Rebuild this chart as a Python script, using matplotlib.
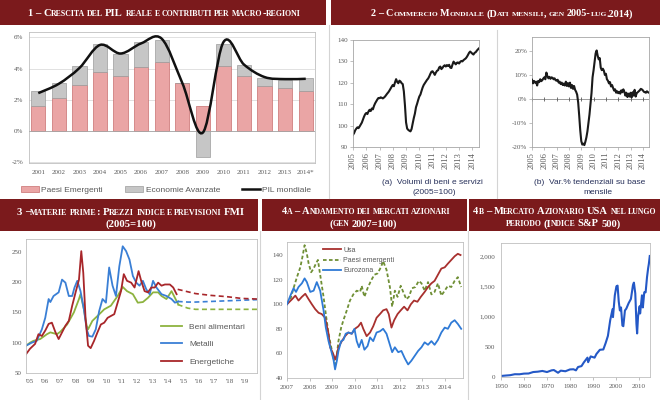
import matplotlib
matplotlib.use('Agg')
import numpy as np
import matplotlib.pyplot as plt
from matplotlib.path import Path
from matplotlib.patches import PathPatch, Rectangle
from matplotlib.lines import Line2D

# ---------------- dati ----------------
# 1 - crescita PIL
anni1 = ['2001', '2002', '2003', '2004', '2005', '2006', '2007', '2008', '2009',
         '2010', '2011', '2012', '2013', '2014*']
emergenti = [1.61, 2.11, 2.97, 3.78, 3.55, 4.09, 4.41, 3.08, 1.61, 4.15, 3.51, 2.86, 2.75, 2.54]
avanzate = [0.93, 0.97, 1.18, 1.81, 1.42, 1.61, 1.42, 0.02, -1.66, 1.44, 0.75, 0.54, 0.54, 0.84]
pil_mondiale = [2.43, 3.03, 4.04, 5.52, 4.97, 5.62, 5.92, 3.08, -0.10, 5.70, 4.26, 3.46, 3.33, 3.35]

# 2 - commercio mondiale, mensile gen 2005 - lug 2014
volumi = [95.7, 96.5, 97.8, 98.6, 99.2, 98.8, 99.6, 100.5, 101.4, 102.8, 104.2, 105.3,
          105.9, 105.4, 106.6, 107.4, 106.8, 108.0, 107.6, 109.2, 110.4, 111.3, 112.2, 112.9,
          112.8, 113.2, 113.0, 112.7, 113.1, 113.6, 114.3, 115.0, 115.6, 116.4, 117.3, 118.2,
          119.0, 118.4, 120.2, 121.7, 120.4, 119.8, 121.0, 120.6, 119.8, 119.4, 116.0, 109.5,
          101.5, 98.6, 98.0, 97.6, 97.3, 98.4, 101.0, 103.5, 105.6, 108.6, 110.2, 112.0,
          113.6, 114.5, 116.2, 117.8, 119.0, 119.8, 120.6, 121.4, 122.0, 123.0, 124.2, 125.2,
          125.4, 124.6, 123.7, 124.8, 125.6, 125.9, 127.2, 127.6, 126.4, 127.0, 127.8, 128.2,
          127.6, 128.3, 127.9, 128.4, 127.1, 126.9, 128.5, 129.9, 129.2, 128.6, 129.4, 129.5,
          129.0, 129.8, 130.2, 130.0, 130.6, 131.0, 131.4, 132.1, 133.0, 134.0, 134.6, 134.1,
          133.6, 133.2, 134.0, 134.3, 135.0, 135.6, 136.1]
var_tend = [8.0, 6.5, 7.5, 6.8, 7.2, 5.6, 7.5, 7.0, 8.2, 7.4, 7.8, 8.5,
            9.0, 8.2, 11.0, 9.5, 8.6, 9.2, 8.4, 9.0, 8.8, 8.2, 8.6, 7.8,
            7.6, 8.0, 6.8, 7.2, 6.2, 6.8, 5.8, 6.4, 5.6, 7.2, 5.4, 6.6,
            5.2, 6.8, 4.6, 5.8, 4.2, 5.4, 3.8, 3.0, 1.8, -1.5, -7.0, -13.0,
            -17.5, -19.0, -18.6, -19.2, -17.8, -16.0, -13.5, -10.0, -6.5, -2.0, 2.5, 9.0,
            12.0, 15.5, 19.0, 20.2, 18.0, 16.5, 17.0, 13.0, 12.0, 12.6, 11.8, 10.0,
            10.5, 8.2, 7.6, 6.5, 7.0, 5.2, 5.8, 4.6, 3.5, 4.0, 2.6, 3.2,
            2.4, 3.0, 2.2, 3.6, 2.8, 4.0, 3.0, 1.4, 2.6, 0.8, 2.2, 1.0,
            2.6, 0.6, 2.8, 1.4, 3.8, 1.0, 2.4, 2.8, 3.2, 3.6, 4.2, 4.0,
            3.6, 3.0, 2.8, 2.6, 3.2, 2.8, 2.6]
anni2 = list(range(2005, 2015))

# 3 - materie prime (2005=100)
alim_t = [2005.00, 2005.26, 2005.48, 2005.92, 2006.36, 2006.58, 2007.01, 2007.23, 2007.67,
          2008.11, 2008.44, 2008.54, 2008.76, 2008.94, 2009.03, 2009.31, 2009.64, 2010.08,
          2010.51, 2010.95, 2011.28, 2011.56, 2011.94, 2012.26, 2012.59, 2012.92, 2013.25,
          2013.58, 2013.80, 2014.12, 2014.45, 2014.67, 2014.89]
alim_v = [95, 100, 103, 106, 114, 117, 114, 118, 130, 150, 172, 180, 155, 128, 122, 136, 144,
          155, 161, 177, 192, 185, 180, 166, 167, 174, 183, 183, 177, 172, 185, 174, 163]
met_t = [2005.00, 2005.37, 2005.70, 2006.03, 2006.25, 2006.47, 2006.58, 2006.79, 2007.12,
         2007.34, 2007.56, 2007.78, 2008.00, 2008.15, 2008.33, 2008.54, 2008.76, 2008.94,
         2009.09, 2009.31, 2009.53, 2009.75, 2009.97, 2010.19, 2010.40, 2010.62, 2010.84,
         2011.06, 2011.28, 2011.50, 2011.72, 2011.94, 2012.16, 2012.37, 2012.59, 2012.81,
         2013.03, 2013.25, 2013.47, 2013.80, 2014.12, 2014.45, 2014.67, 2014.89]
met_v = [95, 100, 103, 122, 141, 172, 167, 177, 183, 204, 199, 177, 177, 191, 202, 185, 155,
         122, 111, 110, 122, 152, 172, 166, 224, 194, 177, 226, 259, 251, 237, 210, 199, 194,
         202, 188, 180, 202, 191, 180, 177, 172, 166, 168]
ener_t = [2005.00, 2005.26, 2005.59, 2005.81, 2006.03, 2006.25, 2006.47, 2006.68, 2006.90,
          2007.12, 2007.34, 2007.56, 2007.78, 2008.00, 2008.22, 2008.44, 2008.59, 2008.72,
          2008.87, 2009.03, 2009.20, 2009.42, 2009.64, 2009.86, 2010.08, 2010.30, 2010.51,
          2010.73, 2010.95, 2011.17, 2011.35, 2011.56, 2011.83, 2012.05, 2012.31, 2012.48,
          2012.70, 2012.92, 2013.14, 2013.36, 2013.58, 2013.80, 2014.02, 2014.34, 2014.56,
          2014.78]
ener_v = [81, 90, 98, 114, 111, 120, 131, 133, 118, 106, 117, 128, 136, 161, 183, 204, 251,
          215, 139, 95, 91, 103, 117, 130, 133, 141, 144, 147, 166, 185, 213, 202, 199, 191,
          218, 202, 185, 183, 191, 191, 199, 194, 196, 196, 191, 180]
prev_t = [2014.85, 2015.5, 2016, 2017, 2018, 2019, 2020]
alim_prev = [163, 157, 155, 155, 155, 155, 155]
met_prev = [168, 167, 167, 168, 169, 170, 171]
ener_prev = [188, 184, 181, 178, 176, 173, 172]
anni3 = list(range(2005, 2020))

# 4a - mercati azionari (gen 2007=100), anni dal gen 2007
usa_dt = [0, .22, .37, .51, .66, .81, .96, 1.10, 1.25, 1.40, 1.54, 1.69, 1.84, 1.91, 1.99,
          2.06, 2.13, 2.21, 2.28, 2.43, 2.57, 2.72, 2.87, 3.01, 3.16, 3.28, 3.38, 3.53, 3.68,
          3.82, 3.97, 4.12, 4.26, 4.41, 4.51, 4.63, 4.75, 4.90, 5.04, 5.19, 5.34, 5.49, 5.63,
          5.78, 5.93, 6.10, 6.25, 6.40, 6.54, 6.69, 6.84, 6.99, 7.13, 7.28, 7.43, 7.57, 7.69]
usa_v = [100, 104, 107, 103, 106, 108.5, 104, 100, 96, 93, 92, 89, 76, 65, 62, 59, 55, 59, 65,
         70, 74, 77, 76, 80, 82, 85, 80, 74, 77, 82, 89, 92, 95, 96, 92, 81, 87, 92, 95, 98, 95,
         100, 103, 102, 106, 110, 114, 117, 119, 124, 129, 130, 133, 136, 139, 141, 140]
em_dt = [0, .15, .29, .44, .59, .69, .78, .88, .96, 1.07, 1.18, 1.28, 1.37, 1.47, 1.62, 1.72,
         1.84, 1.96, 2.06, 2.13, 2.21, 2.28, 2.40, 2.50, 2.65, 2.79, 2.94, 3.09, 3.24, 3.31,
         3.43, 3.57, 3.72, 3.87, 4.01, 4.16, 4.26, 4.41, 4.56, 4.66, 4.78, 4.90, 5.04, 5.15,
         5.29, 5.40, 5.54, 5.69, 5.84, 5.96, 6.10, 6.25, 6.40, 6.54, 6.69, 6.84, 6.99, 7.13,
         7.28, 7.43, 7.57, 7.72]
em_v = [100, 104, 113, 122, 130, 139, 148, 141, 133, 126, 129, 133, 136, 124, 106, 92, 76, 65,
        56, 51, 59, 70, 81, 87, 95, 103, 108, 111, 110, 115, 106, 113, 119, 124, 125, 130, 135,
        128, 114, 98, 111, 106, 115, 110, 104, 106, 113, 114, 119, 117, 111, 118, 108, 110,
        117, 107, 111, 115, 114, 119, 122, 114]
eu_dt = [0, .15, .29, .40, .51, .66, .78, .88, 1.03, 1.18, 1.32, 1.47, 1.62, 1.72, 1.84, 1.96,
         2.06, 2.13, 2.21, 2.28, 2.40, 2.50, 2.60, 2.72, 2.87, 2.99, 3.09, 3.19, 3.31, 3.43,
         3.57, 3.68, 3.82, 3.97, 4.12, 4.26, 4.41, 4.56, 4.66, 4.78, 4.93, 5.07, 5.22, 5.37,
         5.51, 5.66, 5.81, 5.96, 6.10, 6.25, 6.40, 6.54, 6.69, 6.84, 6.99, 7.13, 7.28, 7.43,
         7.57, 7.72]
eu_v = [100, 107, 113, 110, 114, 117, 121, 118, 110, 111, 118, 111, 95, 81, 70, 62, 55, 47, 54,
        62, 70, 71, 76, 77, 76, 80, 70, 65, 71, 63, 66, 73, 70, 77, 78, 80, 76, 67, 61, 65, 61,
        62, 56, 51, 54, 58, 62, 65, 69, 67, 70, 67, 71, 77, 81, 80, 85, 87, 84, 80]
anni4a = list(range(2007, 2015))

# 4b - S&P 500
sp_t = [1950, 1952, 1954, 1956, 1958, 1960, 1962, 1964, 1966, 1968, 1970, 1972, 1973, 1974.8,
        1976, 1978, 1980, 1981.5, 1982.6, 1983.5, 1985, 1986, 1987.6, 1987.9, 1989, 1990.7,
        1991.5, 1993, 1994.5, 1995.5, 1996.5, 1997.5, 1998.5, 1998.7, 1999.5, 2000.2, 2000.7,
        2001.2, 2001.7, 2002.2, 2002.8, 2003.2, 2003.9, 2004.5, 2005.5, 2006.5, 2007.4,
        2007.8, 2008.4, 2008.9, 2009.2, 2009.6, 2010.3, 2010.5, 2011.3, 2011.7, 2012.3,
        2012.9, 2013.5, 2014.0, 2014.3, 2014.7]
sp_v = [17, 24, 30, 46, 45, 56, 58, 82, 88, 100, 82, 110, 115, 70, 105, 95, 125, 128, 110, 165,
        180, 240, 320, 245, 340, 320, 380, 450, 455, 560, 680, 940, 1120, 990, 1350, 1500, 1510,
        1250, 1100, 1150, 850, 840, 1100, 1130, 1220, 1290, 1520, 1560, 1380, 880, 720, 1000,
        1170, 1050, 1350, 1150, 1400, 1400, 1650, 1800, 1870, 2000]
decadi = list(range(1950, 2011, 10))

# ---------------- stile ----------------
W, H = 660, 400
RED = '#7b1a1c'
TXT = '#595959'
SEP = '#d4d4d4'
SERIF = ['Liberation Serif', 'DejaVu Serif']
NARROW = ['Liberation Sans Narrow', 'Liberation Sans', 'DejaVu Sans']
plt.rcParams['font.family'] = SERIF

fig = plt.figure(figsize=(6.6, 4.0), dpi=100)
renderer = fig.canvas.get_renderer()


def px_axes(l, t, r, b):
    return fig.add_axes([l / W, 1 - b / H, (r - l) / W, (b - t) / H])


def style(ax, edge='#bfbfbf'):
    ax.tick_params(labelsize=5, labelcolor=TXT, color='#a6a6a6', length=2, width=0.5, pad=1.5)
    for s in ax.spines.values():
        s.set_color(edge)
        s.set_linewidth(0.6)


def band(l, t, r, b):
    fig.add_artist(Rectangle((l / W, 1 - b / H), (r - l) / W, (b - t) / H,
                             transform=fig.transFigure, facecolor=RED, edgecolor='none'))


def vline(x, t, b):
    fig.add_artist(Line2D([x / W, x / W], [1 - t / H, 1 - b / H],
                          transform=fig.transFigure, color=SEP, lw=0.8))


def caps_runs(s):
    runs = []
    for ch in s:
        kind = 'sp' if ch == ' ' else ('sm' if ch.islower() else 'bg')
        if runs and runs[-1][0] == kind:
            runs[-1][1] += ch
        else:
            runs.append([kind, ch])
    return runs


def caps_line(xc, yc, s, big, ratio=0.74):
    # maiuscoletto: minuscole rese come maiuscole piu' piccole
    yb = yc + 0.33 * big * 100 / 72
    items, x, last = [], 0.0, big * ratio
    for kind, txt in caps_runs(s):
        if kind == 'sp':
            x += len(txt) * 0.25 * last * 100 / 72
            continue
        size = big if kind == 'bg' else big * ratio
        t = fig.text(0, 1 - yb / H, txt.upper(), fontsize=size, color='white',
                     fontweight='bold', va='baseline', ha='left')
        items.append((t, x))
        x += t.get_window_extent(renderer).width
        last = size
    x0 = xc - x / 2
    for t, dx in items:
        t.set_x((x0 + dx) / W)
    return [t for t, _ in items], x


def header(xc, yc, s, width, big=8.0):
    texts, w = caps_line(xc, yc, s, big)
    for t in texts:
        t.remove()
    big *= width / w
    caps_line(xc, yc, s, big)
    return big


def smooth_path(xs, ys):
    p = np.column_stack([xs, ys]).astype(float)
    verts, codes = [p[0]], [Path.MOVETO]
    n = len(p)
    for i in range(n - 1):
        p0 = p[i - 1] if i > 0 else p[i]
        p3 = p[i + 2] if i + 2 < n else p[i + 1]
        verts += [p[i] + (p[i + 1] - p0) / 6, p[i + 1] - (p3 - p[i]) / 6, p[i + 1]]
        codes += [Path.CURVE4] * 3
    return Path(verts, codes)


# ---------------- intestazioni ----------------
band(0, 0, 326, 25)
band(331, 0, 660, 25)
band(0, 199, 258, 231)
band(262, 199, 467, 231)
band(469, 199, 660, 231)
vline(328.5, 25, 198)
vline(497, 30, 198)
vline(260, 231, 399)
vline(468, 231, 399)

header(164, 13, '1 – Crescita del PIL reale e contributi per macro-regioni', 275)
header(502, 13, '2 – Commercio Mondiale (Dati mensili, gen 2005-lug.2014)', 262)
b3 = header(131, 211, '3 –materie prime: Prezzi indice e previsioni FMI', 228)
caps_line(131, 223, '(2005=100)', b3)
b4 = header(366, 211, '4a – Andamento dei mercati azionari', 170)
caps_line(363, 223, '(gen 2007=100)', b4)
b5 = header(565, 211, '4b – Mercato Azionario USA nel lungo', 184)
caps_line(563, 223, 'periodo (Indice S&P 500)', b5)

# ---------------- 1 ----------------
ax1 = px_axes(29, 32, 315, 163)
x1 = np.arange(len(anni1))
em = np.array(emergenti)
av = np.array(avanzate)
b_em = ax1.bar(x1, em, 0.7, color='#eaa5a5', edgecolor='#c86e6e', lw=0.5, zorder=2)
b_av = ax1.bar(x1, av, 0.7, bottom=np.where(av >= 0, em, 0), color='#c6c6c6',
               edgecolor='#9c9c9c', lw=0.5, zorder=2)
ax1.add_patch(PathPatch(smooth_path(x1, pil_mondiale), fill=False, lw=1.8,
                        ec='#111111', zorder=4))
ax1.axhline(0, color='#a6a6a6', lw=0.6, zorder=3)
ax1.set_xlim(-0.45, len(anni1) - 0.55)
ax1.set_ylim(-2.05, 6.35)
ax1.set_yticks([-2, 0, 2, 4, 6], ['-2%', '0%', '2%', '4%', '6%'])
ax1.set_xticks(x1, anni1)
ax1.yaxis.grid(True, color='#dcdcdc', lw=0.6, zorder=0)
ax1.set_axisbelow(True)
style(ax1)
ax1.tick_params(axis='both', length=0)
ax1.tick_params(axis='x', pad=5)
ax1.tick_params(axis='y', pad=4)
leg1 = fig.legend([b_em, b_av, Line2D([], [], color='#111111', lw=1.8)],
                  ['Paesi Emergenti', 'Economie Avanzate', 'PIL mondiale'],
                  loc='center', bbox_to_anchor=(166 / W, 1 - 190 / H), ncol=3,
                  frameon=False, handlelength=2.2, handleheight=0.8, columnspacing=2.6,
                  handletextpad=0.3, prop={'family': NARROW, 'size': 6})
for t in leg1.get_texts():
    t.set_color(TXT)

# ---------------- 2a ----------------
mesi = 2005 + np.arange(len(volumi)) / 12
ax2a = px_axes(353, 40, 479, 147)
ax2a.plot(mesi, volumi, color='#1a1a1a', lw=1.5)
ax2a.set_xlim(2005, mesi[-1])
ax2a.set_ylim(90, 140)
ax2a.set_yticks(range(90, 141, 10))
ax2a.set_xticks(anni2, [str(a) for a in anni2], rotation=90)
style(ax2a, '#a6a6a6')
ax2a.tick_params(axis='x', labelsize=6)
fig.text(432 / W, 1 - 183 / H, '(a)  Volumi di beni e servizi', ha='center', va='center',
         fontsize=6, color='#27305a', family=NARROW)
fig.text(434 / W, 1 - 193 / H, '(2005=100)', ha='center', va='center',
         fontsize=6, color='#27305a', family=NARROW)

# ---------------- 2b ----------------
mesi_b = 2005 + np.arange(len(var_tend)) / 12
ax2b = px_axes(532, 37, 649, 147)
ax2b.plot(mesi_b, var_tend, color='#1a1a1a', lw=1.5, zorder=3)
ax2b.axhline(0, color='#8c8c8c', lw=0.6)
ax2b.plot(anni2, np.zeros(len(anni2)), '|', ms=2.5, mew=0.6, color='#595959')
ax2b.set_xlim(2005, mesi_b[-1])
ax2b.set_ylim(-20, 25.8)
ax2b.set_yticks([-20, -10, 0, 10, 20], ['-20%', '-10%', '0%', '10%', '20%'])
ax2b.set_xticks(anni2, [str(a) for a in anni2], rotation=90)
style(ax2b, '#a6a6a6')
ax2b.tick_params(axis='x', labelsize=6)
fig.text(590 / W, 1 - 183 / H, '(b)  Var.% tendenziali su base', ha='center', va='center',
         fontsize=6, color='#27305a', family=NARROW)
fig.text(598 / W, 1 - 193 / H, 'mensile', ha='center', va='center',
         fontsize=6, color='#27305a', family=NARROW)

# ---------------- 3 ----------------
ax3 = px_axes(26, 239, 257, 373)
c_alim, c_met, c_ener = '#8db33f', '#3a7fd5', '#a8262a'
ax3.plot(alim_t, alim_v, color=c_alim, lw=1.3, label='Beni alimentari')
ax3.plot(met_t, met_v, color=c_met, lw=1.3, label='Metalli')
ax3.plot(ener_t, ener_v, color=c_ener, lw=1.3, label='Energetiche')
ax3.plot(prev_t, alim_prev, color=c_alim, lw=1.2, ls=(0, (3, 2)))
ax3.plot(prev_t, met_prev, color=c_met, lw=1.2, ls=(0, (3, 2)))
ax3.plot(prev_t, ener_prev, color=c_ener, lw=1.2, ls=(0, (3, 2)))
ax3.set_xlim(2005, 2020)
ax3.set_ylim(50, 271)
ax3.set_yticks(range(50, 251, 50))
ax3.set_xticks(np.array(anni3) + 0.22, ["'%02d" % (a % 100) for a in anni3])
style(ax3)
ax3.tick_params(axis='x', length=0, pad=4)
ax3.tick_params(axis='y', length=0, pad=3)
leg3 = ax3.legend(loc='upper left', bbox_to_anchor=(0.55, 0.43), frameon=False,
                  handlelength=2.6, labelspacing=1.15, handletextpad=0.8,
                  prop={'family': NARROW, 'size': 6})
for t in leg3.get_texts():
    t.set_color(TXT)

# ---------------- 4a ----------------
ax4 = px_axes(287, 242, 463, 378)
ax4.plot(2007 + np.array(usa_dt), usa_v, color='#a8302e', lw=1.3, label='Usa', zorder=3)
ax4.plot(2007 + np.array(em_dt), em_v, color='#6f8f35', lw=1.3, ls=(0, (2, 1.3)),
         label='Paesi emergenti', zorder=2)
ax4.plot(2007 + np.array(eu_dt), eu_v, color='#2f7ad6', lw=1.3, label='Eurozona', zorder=3)
ax4.set_xlim(2007, 2014.8)
ax4.set_ylim(40, 150.6)
ax4.set_yticks(range(40, 141, 20))
ax4.set_xticks(anni4a)
style(ax4)
ax4.tick_params(axis='y', length=0, pad=3)
ax4.tick_params(axis='x', pad=3)
leg4 = ax4.legend(loc='upper left', bbox_to_anchor=(0.17, 1.01), frameon=False,
                  handlelength=2.6, labelspacing=0.45, handletextpad=0.3,
                  prop={'family': NARROW, 'size': 5})
for t in leg4.get_texts():
    t.set_color(TXT)

# ---------------- 4b ----------------
ax5 = px_axes(501, 243, 650, 377)
ax5.plot(sp_t, sp_v, color='#2458c6', lw=1.5)
ax5.set_xlim(1950, 2014.8)
ax5.set_ylim(0, 2215)
ax5.set_yticks(range(0, 2001, 500), ['0', '500', '1,000', '1,500', '2,000'])
ax5.set_xticks(decadi)
style(ax5)
ax5.tick_params(axis='y', length=0, pad=4)
ax5.tick_params(axis='x', pad=3)

fig.savefig('out.png', dpi=100)
